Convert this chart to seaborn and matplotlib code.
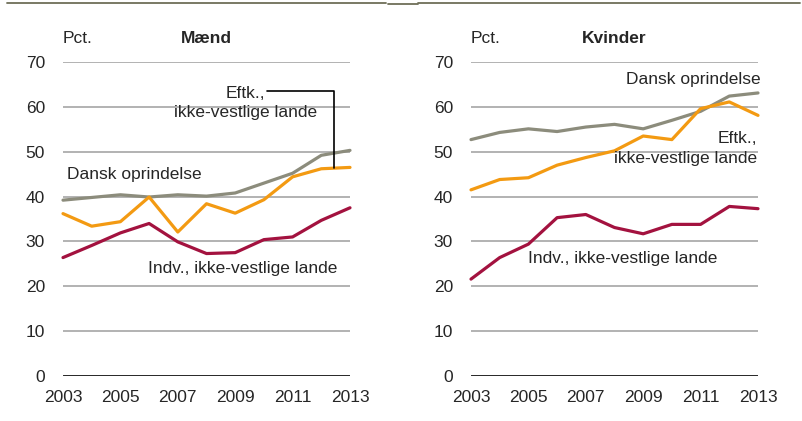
import numpy as np
import pandas as pd
import seaborn as sns
import matplotlib.pyplot as plt
from matplotlib.lines import Line2D

# Data
years = list(range(2003, 2014))

maend_dansk = [39.2, 39.8, 40.4, 39.9, 40.4, 40.1, 40.8, 43.0, 45.2, 49.2, 50.3]
maend_eftk = [36.2, 33.4, 34.4, 39.9, 32.1, 38.4, 36.3, 39.3, 44.4, 46.2, 46.5]
maend_indv = [26.4, 29.1, 31.9, 34.0, 29.9, 27.3, 27.5, 30.4, 31.0, 34.7, 37.5]

kvinder_dansk = [52.7, 54.3, 55.1, 54.5, 55.5, 56.1, 55.1, 57.0, 59.0, 62.4, 63.1]
kvinder_eftk = [41.5, 43.8, 44.2, 47.0, 48.7, 50.2, 53.5, 52.7, 59.6, 61.1, 58.1]
kvinder_indv = [21.6, 26.4, 29.4, 35.3, 36.0, 33.1, 31.7, 33.8, 33.8, 37.8, 37.3]

colors = {'dansk': '#8C8C7C', 'eftk': '#F39A12', 'indv': '#A3123F'}

sns.set_style("white")
plt.rcParams['font.family'] = ['Liberation Sans', 'DejaVu Sans']

fig = plt.figure(figsize=(8.03, 4.21), dpi=100)
ax1 = fig.add_axes([63 / 803, 45 / 421, 287 / 803, 314 / 421])
ax2 = fig.add_axes([471 / 803, 45 / 421, 287 / 803, 314 / 421])


def draw_panel(ax, dansk, eftk, indv, title):
    df = pd.DataFrame({'year': years, 'dansk': dansk, 'eftk': eftk, 'indv': indv})
    for col in ['dansk', 'eftk', 'indv']:
        sns.lineplot(data=df, x='year', y=col, ax=ax, color=colors[col],
                     linewidth=2.3, clip_on=False, zorder=3)
    ax.set_xlim(2003, 2013)
    ax.set_ylim(0, 70)
    ax.set_yticks(range(0, 71, 10))
    ax.set_xticks(range(2003, 2014, 2))
    ax.yaxis.grid(True, color='#A6A6A6', linewidth=1.2)
    ax.axhline(0, color='black', linewidth=1.8, zorder=4)
    for s in ax.spines.values():
        s.set_visible(False)
    ax.tick_params(axis='both', length=0, labelsize=12.5)
    ax.tick_params(axis='y', pad=13)
    ax.tick_params(axis='x', pad=10)
    ax.set_xlabel('')
    ax.set_ylabel('')
    ax.text(0, 1.05, 'Pct.', transform=ax.transAxes, fontsize=12.5, ha='left', va='bottom')
    ax.text(0.5, 1.05, title, transform=ax.transAxes, fontsize=12.5,
            fontweight='bold', ha='center', va='bottom')


draw_panel(ax1, maend_dansk, maend_eftk, maend_indv, 'Mænd')
draw_panel(ax2, kvinder_dansk, kvinder_eftk, kvinder_indv, 'Kvinder')

# Labels, men
ax1.text(2003.15, 45.0, 'Dansk oprindelse', fontsize=12.5, ha='left', va='center')
ax1.text(2009.35, 60.8, 'Eftk.,\nikke-vestlige lande', fontsize=12.5,
         ha='center', va='center', linespacing=1.35)
ax1.text(2005.95, 24.0, 'Indv., ikke-vestlige lande', fontsize=12.5, ha='left', va='center')
ax1.plot([2010.1, 2012.45, 2012.45], [63.6, 63.6, 46.3], color='black',
         linewidth=1.2, zorder=5)

# Labels, women
ax2.text(2013.08, 66.1, 'Dansk oprindelse', fontsize=12.5, ha='right', va='center')
ax2.text(2012.97, 50.7, 'Eftk.,\nikke-vestlige lande', fontsize=12.5,
         ha='right', va='center', linespacing=1.35, multialignment='right')
ax2.text(2005.0, 26.2, 'Indv., ikke-vestlige lande', fontsize=12.5, ha='left', va='center')

# Top rule
fig.add_artist(Line2D([7 / 803, 386 / 803], [1 - 3 / 421, 1 - 3 / 421], color='#6E6E58', linewidth=1.3))
fig.add_artist(Line2D([388 / 803, 418 / 803], [1 - 4 / 421, 1 - 4 / 421], color='#6E6E58', linewidth=1.3))
fig.add_artist(Line2D([418 / 803, 800 / 803], [1 - 3 / 421, 1 - 3 / 421], color='#6E6E58', linewidth=1.3))

fig.savefig('out.png', dpi=100)
